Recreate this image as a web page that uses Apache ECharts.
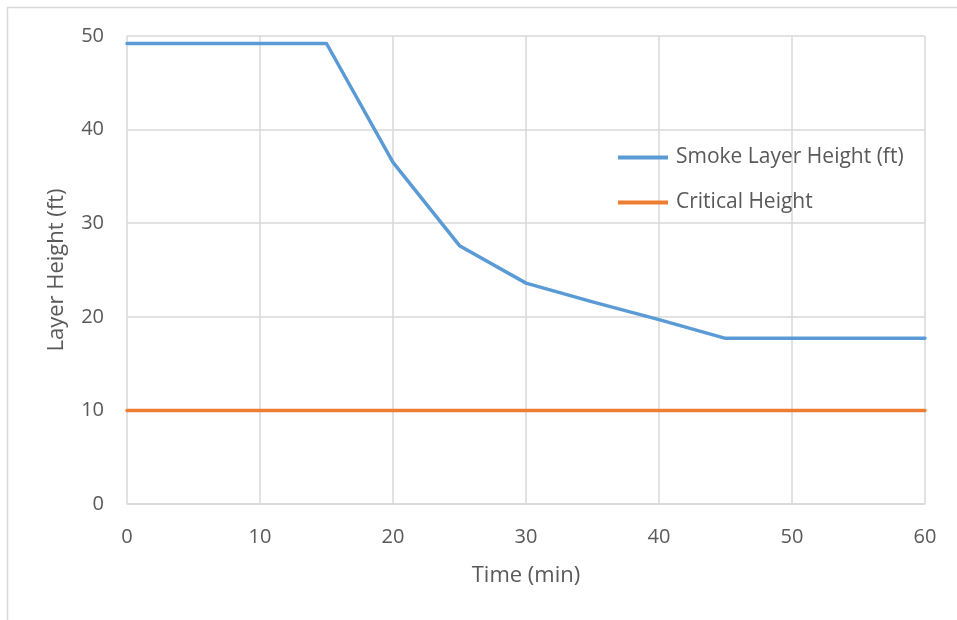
<!DOCTYPE html>
<html>
<head>
<meta charset="utf-8">
<script src="https://cdn.jsdelivr.net/npm/echarts@6/dist/echarts.min.js"></script>
<style>
  html, body { margin: 0; padding: 0; background: #fff; }
  #chart { width: 957px; height: 620px; }
</style>
</head>
<body>
<div id="chart"></div>
<script>
// Time in minutes (x) and the two height series (ft)
const timeMin = [0, 5, 10, 15, 20, 25, 30, 35, 40, 45, 50, 55, 60];
const smokeLayerHeight = [49.2, 49.2, 49.2, 49.2, 36.5, 27.6, 23.6, 21.6, 19.7, 17.7, 17.7, 17.7, 17.7];
const criticalHeight = [10, 10, 10, 10, 10, 10, 10, 10, 10, 10, 10, 10, 10];
const seriesNames = ['Smoke Layer Height (ft)', 'Critical Height'];

const font = '"Open Sans", "Liberation Sans", sans-serif';
const textColor = '#595959';
const gridColor = '#d9d9d9';

const chart = echarts.init(document.getElementById('chart'), null, { renderer: 'canvas' });

chart.setOption({
  animation: false,
  backgroundColor: '#ffffff',
  textStyle: { fontFamily: font },
  grid: { left: 127, right: 32, top: 36, bottom: 116, containLabel: false },
  graphic: [{
    type: 'rect',
    shape: { x: 7.5, y: 7.5, width: 1000, height: 700 },
    style: { fill: 'none', stroke: '#d9d9d9', lineWidth: 1.5 },
    silent: true,
    z: -1
  }],
  legend: {
    orient: 'vertical',
    left: 618,
    top: 147,
    padding: 0,
    itemWidth: 50,
    itemHeight: 4,
    itemGap: 24,
    icon: 'rect',
    textStyle: { fontFamily: font, fontSize: 21, color: textColor, padding: [0, 0, 0, 3] },
    data: seriesNames
  },
  xAxis: {
    type: 'value',
    min: 0,
    max: 60,
    interval: 10,
    name: 'Time (min)',
    nameLocation: 'middle',
    nameGap: 61,
    nameTextStyle: { fontFamily: font, fontSize: 22, color: textColor },
    axisLine: { show: true, lineStyle: { color: gridColor, width: 1.5 } },
    axisTick: { show: false },
    axisLabel: { fontFamily: font, fontSize: 20, color: textColor, margin: 23 },
    splitLine: { show: true, lineStyle: { color: gridColor, width: 1.5 } }
  },
  yAxis: {
    type: 'value',
    min: 0,
    max: 50,
    interval: 10,
    name: 'Layer Height (ft)',
    nameLocation: 'middle',
    nameGap: 59,
    nameTextStyle: { fontFamily: font, fontSize: 22, color: textColor },
    axisLine: { show: false },
    axisTick: { show: false },
    axisLabel: { fontFamily: font, fontSize: 20, color: textColor, margin: 23 },
    splitLine: { show: true, lineStyle: { color: gridColor, width: 1.5 } }
  },
  series: [
    {
      name: seriesNames[0],
      type: 'line',
      data: timeMin.map((t, i) => [t, smokeLayerHeight[i]]),
      showSymbol: false,
      symbol: 'none',
      lineStyle: { color: '#5b9bd5', width: 3.5, join: 'round', cap: 'round' },
      itemStyle: { color: '#5b9bd5' },
      z: 3
    },
    {
      name: seriesNames[1],
      type: 'line',
      data: timeMin.map((t, i) => [t, criticalHeight[i]]),
      showSymbol: false,
      symbol: 'none',
      lineStyle: { color: '#ed7d31', width: 3.5, cap: 'round' },
      itemStyle: { color: '#ed7d31' },
      z: 2
    }
  ]
});
</script>
</body>
</html>
